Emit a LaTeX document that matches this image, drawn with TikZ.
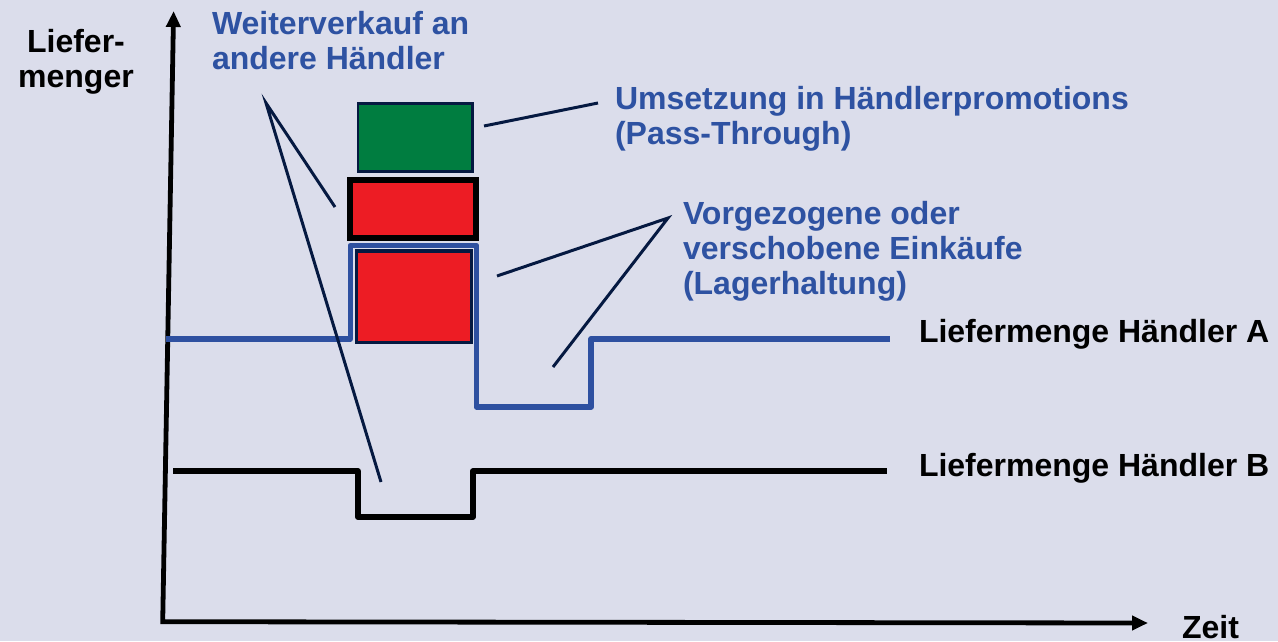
\documentclass[tikz,border=0pt]{standalone}
\usepackage{fontspec}
\setmainfont{Liberation Sans}
\usetikzlibrary{arrows.meta}
\definecolor{bg}{RGB}{219,221,235}
\definecolor{txtblue}{RGB}{46,82,162}
\definecolor{lineblue}{RGB}{46,80,160}
\definecolor{navy}{RGB}{5,25,65}
\definecolor{boxgreen}{RGB}{0,125,64}
\definecolor{boxred}{RGB}{237,28,36}
\begin{document}
\begin{tikzpicture}[x=1pt,y=-1pt,
  lbl/.style={font=\fontsize{32}{35}\selectfont\bfseries, inner sep=0pt, outer sep=0pt},
  bluelbl/.style={lbl, text=txtblue, align=left, anchor=north west},
  blacklbl/.style={lbl, anchor=base west},
  callout/.style={draw=navy, line width=3pt},
  axis/.style={draw=black, line width=4.8pt, line join=miter},
  stepA/.style={draw=lineblue, line width=5.6pt, line join=round},
  stepB/.style={draw=black, line width=5.7pt, line join=round},
  bar/.style={inner sep=0pt, outer sep=0pt}
]
\fill[bg] (0,0) rectangle (1278,641);
\useasboundingbox (0,0) rectangle (1278,641);

% axes
\coordinate (ytop) at (173.6,11);
\coordinate (origin) at (162.7,621.7);
\coordinate (xend) at (1148,623);
\draw[axis, {Triangle[length=16pt,width=14pt]}-{Triangle[length=16pt,width=14pt]}] (ytop) -- (origin) -- (xend);

% supply lines
\draw[stepB] (173.3,471.2) -- (357.8,471.2) -- (357.8,517) -- (472.8,517) -- (472.8,471.2) -- (887,471.2);
\draw[stepA] (166,338.8) -- (350.3,338.8) -- (350.3,245.5) -- (476.5,245.5) -- (476.5,407) -- (591.2,407) -- (591.2,338.8) -- (890,338.8);

% boxes
\node[bar, draw=navy, line width=2.8pt, fill=boxgreen, minimum width=114.8pt, minimum height=68.4pt] (green) at (415.4,137.5) {};
\node[bar, draw=black, line width=6pt, fill=boxred, minimum width=126.6pt, minimum height=57.8pt] (red1) at (413,208.6) {};
\node[bar, draw=navy, line width=3.3pt, fill=boxred, minimum width=114.6pt, minimum height=91.3pt] (red2) at (414,296.7) {};

% labels
\node[lbl, align=center, anchor=north] (ylab) at (76,29.7) {Liefer-\\menger};
\node[bluelbl] (weiter) at (212,11.7) {Weiterverkauf an\\andere Händler};
\node[bluelbl] (umsetz) at (615,86.5) {Umsetzung in Händlerpromotions\\(Pass-Through)};
\node[bluelbl] (vorgez) at (683,201.7) {Vorgezogene oder\\verschobene Einkäufe\\(Lagerhaltung)};
\node[blacklbl] (liefA) at (919,342) {Liefermenge Händler A};
\node[blacklbl] (liefB) at (919,476) {Liefermenge Händler B};
\node[blacklbl] (zeit) at (1182,638) {Zeit};

% callouts
\coordinate (wapex) at (266,103);
\coordinate (wend1) at (335,207);
\coordinate (wend2) at (381,482);
\draw[callout] (wend1) -- (wapex) -- (wend2);
\coordinate (uapex) at (598,103);
\coordinate (uend) at (484,126);
\draw[callout] (uapex) -- (uend);
\coordinate (vapex) at (668,218);
\coordinate (vend1) at (497,276);
\coordinate (vend2) at (553,367);
\draw[callout] (vend1) -- (vapex) -- (vend2);
\end{tikzpicture}
\end{document}
